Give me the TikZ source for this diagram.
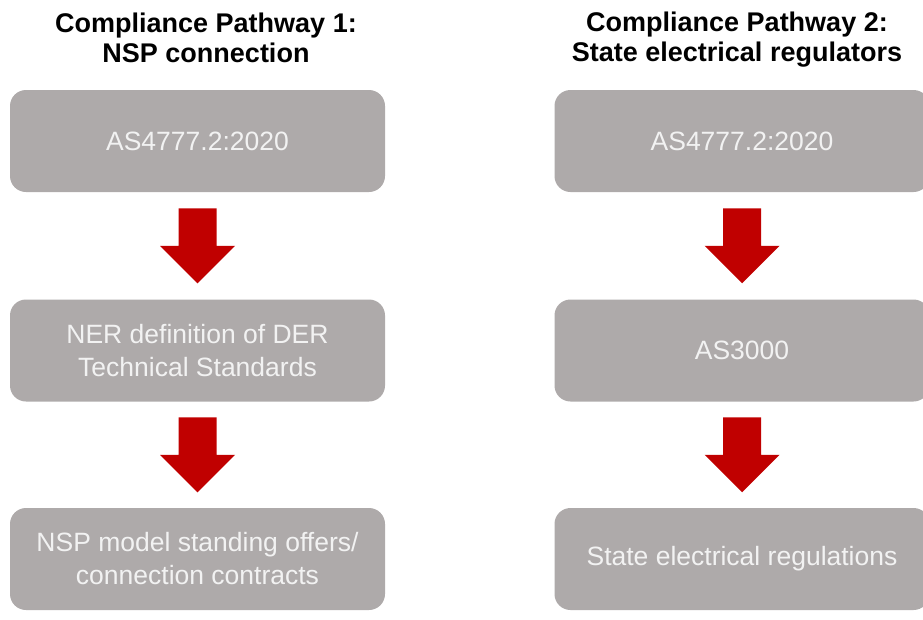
\documentclass[tikz,border=0pt]{standalone}
\usepackage{fontspec}
\setmainfont{Liberation Sans}
\usetikzlibrary{calc}
\definecolor{boxgrey}{HTML}{AEAAAA}
\definecolor{arrowred}{HTML}{C00000}
\definecolor{boxtext}{HTML}{F2F2F2}
\tikzset{
  stepbox/.style={rectangle, rounded corners=16pt, fill=boxgrey, text=boxtext,
    minimum width=375pt, minimum height=102pt, align=center, inner sep=0pt,
    font=\fontsize{26.5}{33}\selectfont},
  pathtitle/.style={align=center, inner sep=0pt,
    font=\bfseries\fontsize{27}{30}\selectfont},
  flowarrow/.style={fill=arrowred}
}
% block arrow pointing down, centred in the gap between two boxes
\newcommand{\flowstep}[2]{%
  \fill[flowarrow] let \p1=($(#1.south)!0.5!(#2.north)$) in
    (\x1-19pt,\y1+37.5pt) -- (\x1+19pt,\y1+37.5pt) -- (\x1+19pt,\y1)
    -- (\x1+37.5pt,\y1) -- (\x1,\y1-37.5pt) -- (\x1-37.5pt,\y1)
    -- (\x1-19pt,\y1) -- cycle;}
\begin{document}
\begin{tikzpicture}[x=1pt,y=-1pt]
\useasboundingbox (0,0) rectangle (923,619);

% column titles
\node[pathtitle] (t1) at (206,38) {Compliance Pathway 1:\\NSP connection};
\node[pathtitle] (t2) at (737,40) {Compliance Pathway 2:\\State electrical regulators};

% pathway 1
\node[stepbox] (a1) at (197.5,141)   {AS4777.2:2020};
\node[stepbox] (a2) at (197.5,350.5) {NER definition of DER\\Technical Standards};
\node[stepbox] (a3) at (197.5,559)   {NSP model standing offers/\\connection contracts};

% pathway 2
\node[stepbox] (b1) at (742,141)   {AS4777.2:2020};
\node[stepbox] (b2) at (742,350.5) {AS3000};
\node[stepbox] (b3) at (742,559)   {State electrical regulations};

\flowstep{a1}{a2}
\flowstep{a2}{a3}
\flowstep{b1}{b2}
\flowstep{b2}{b3}
\end{tikzpicture}
\end{document}
